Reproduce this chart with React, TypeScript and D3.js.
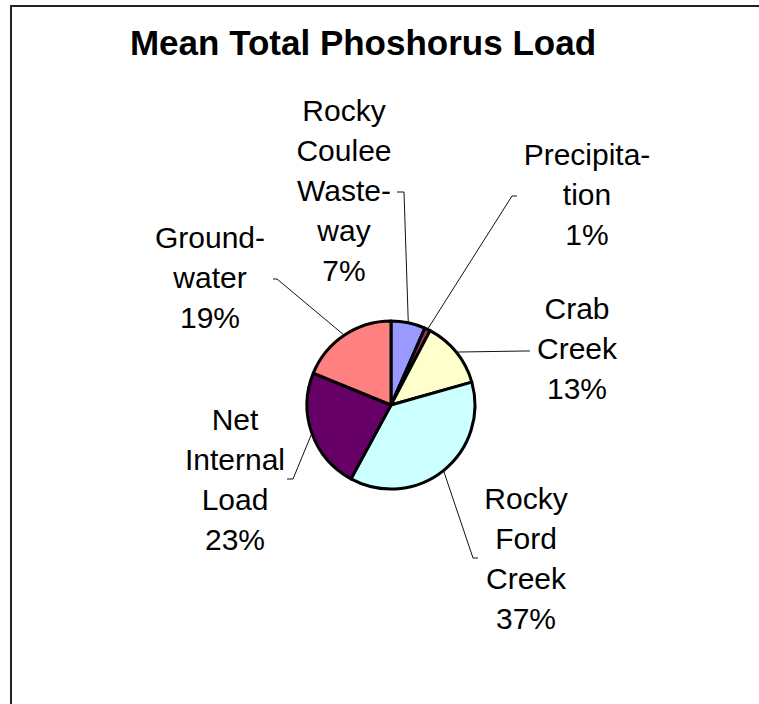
import React from "react";
import * as d3 from "d3";

const categories = [
  ["Rocky", "Coulee", "Waste-", "way"],
  ["Precipita-", "tion"],
  ["Crab", "Creek"],
  ["Rocky", "Ford", "Creek"],
  ["Net", "Internal", "Load"],
  ["Ground-", "water"],
];
const values = [6.6, 1.1, 12.9, 37.3, 23.3, 18.8];
const colors = ["#9999FF", "#993366", "#FFFFCC", "#CCFFFF", "#660066", "#FF8080"];

// label layout: centre x, first baseline, leader elbow, leader end
const labelX = [344, 587, 577, 526, 235, 210];
const labelY = [121, 165, 319, 509, 430, 248];
const elbow = [[404, 192], [512, 196], [525, 351], [473, 558], [293, 479], [277, 279]];
const tickEnd = [[397, 192], [517, 196], [530, 351], [478, 558], [287, 479], [273, 279]];

const width = 759;
const height = 704;
const cx = 391;
const cy = 405;
const radius = 84;
const lineH = 40;
const font = "'Liberation Sans', Arial, sans-serif";

export default function App() {
  const pie = d3.pie<number>().sort(null).value((d) => d);
  const arcs = pie(values);
  const arc = d3.arc<d3.PieArcDatum<number>>().innerRadius(0).outerRadius(radius);
  const total = d3.sum(values);

  return (
    <svg
      width={width}
      height={height}
      style={{ position: "absolute", left: 0, top: 0, background: "#fff" }}
    >
      <rect x={11} y={6} width={800} height={800} fill="#fff" stroke="#222" strokeWidth={2} />
      <text
        x={363}
        y={55}
        textAnchor="middle"
        fontFamily={font}
        fontWeight="bold"
        fontSize={35}
      >
        Mean Total Phoshorus Load
      </text>
      <g transform={`translate(${cx},${cy})`}>
        {arcs.map((a, i) => (
          <path key={i} d={arc(a) || ""} fill={colors[i]} stroke="#000" strokeWidth={3} strokeLinejoin="round" />
        ))}
      </g>
      {arcs.map((a, i) => {
        const mid = (a.startAngle + a.endAngle) / 2;
        const px = cx + radius * Math.sin(mid);
        const py = cy - radius * Math.cos(mid);
        return (
          <polyline
            key={i}
            points={`${px},${py} ${elbow[i][0]},${elbow[i][1]} ${tickEnd[i][0]},${tickEnd[i][1]}`}
            fill="none"
            stroke="#111"
            strokeWidth={1}
          />
        );
      })}
      {categories.map((lines, i) => {
        const all = [...lines, `${Math.round((values[i] / total) * 100)}%`];
        return (
          <text key={i} textAnchor="middle" fontFamily={font} fontSize={30} fill="#000">
            {all.map((t, j) => (
              <tspan key={j} x={labelX[i]} y={labelY[i] + j * lineH}>
                {t}
              </tspan>
            ))}
          </text>
        );
      })}
    </svg>
  );
}
